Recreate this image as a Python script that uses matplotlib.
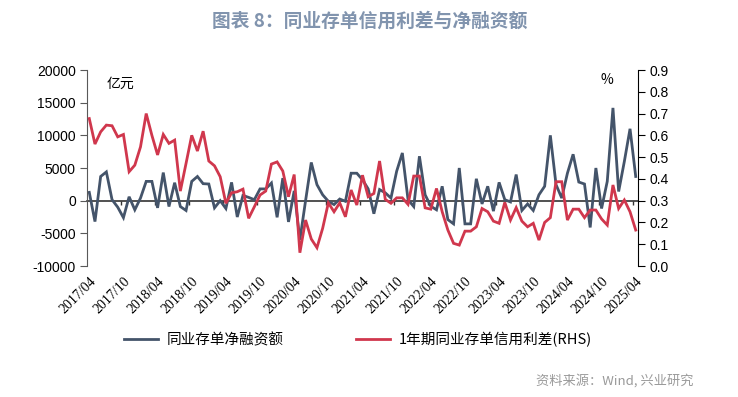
import matplotlib
matplotlib.use("Agg")
import matplotlib.pyplot as plt
import numpy as np
import pandas as pd

months = pd.period_range("2017-04", "2025-04", freq="M")
month_labels = [p.strftime("%Y/%m") for p in months]

net_financing = [1270, -3200, 3700, 4400, 150, -1000, -2600, 600, -1400, 400,
                 2950, 2950, -1100, 4300, -900, 2750, -900, -1500, 2950, 3700,
                 2600, 2550, -1100, 0, -1200, 2800, -2500, 800, 500, 150,
                 1800, 1800, 2700, -2550, 3450, -3250, 1500, -6000, 0, 5850,
                 2450, 900, -100, -600, 250, -100, 4200, 4200, 3200, 1800,
                 -2000, 1700, 1200, 400, 4500, 7300, 150, -900, 6800, 900,
                 -850, -1400, 2200, -2900, -3550, 5000, -3550, -3550, 3350, -500,
                 2200, -1600, 2800, 150, -200, 4000, -1500, -500, -1500, 900,
                 2200, 10000, 2450, 400, 4200, 7100, 2850, 2550, -4100, 5000,
                 -1200, 2950, 14200, 1400, 6000, 11000, 3700]

credit_spread = [0.677, 0.56, 0.616, 0.647, 0.644, 0.593, 0.604, 0.433, 0.463, 0.547,
                 0.70, 0.60, 0.51, 0.604, 0.563, 0.578, 0.344, 0.471, 0.60, 0.528,
                 0.619, 0.482, 0.46, 0.41, 0.288, 0.336, 0.341, 0.353, 0.219, 0.272,
                 0.326, 0.344, 0.468, 0.478, 0.436, 0.318, 0.42, 0.061, 0.211, 0.124,
                 0.084, 0.173, 0.29, 0.249, 0.29, 0.226, 0.349, 0.28, 0.417, 0.318,
                 0.333, 0.482, 0.306, 0.288, 0.313, 0.313, 0.283, 0.413, 0.413, 0.267,
                 0.261, 0.356, 0.249, 0.165, 0.104, 0.096, 0.16, 0.16, 0.18, 0.264,
                 0.249, 0.206, 0.196, 0.292, 0.211, 0.268, 0.206, 0.18, 0.196, 0.119,
                 0.2, 0.222, 0.387, 0.387, 0.211, 0.261, 0.261, 0.222, 0.257, 0.257,
                 0.216, 0.188, 0.372, 0.264, 0.303, 0.249, 0.165]

left_ticks = [-10000, -5000, 0, 5000, 10000, 15000, 20000]
right_ticks = [0.0, 0.1, 0.2, 0.3, 0.4, 0.5, 0.6, 0.7, 0.8, 0.9]

title = "图表 8：同业存单信用利差与净融资额"
name_blue = "同业存单净融资额"
name_red = "1年期同业存单信用利差(RHS)"
source = "资料来源：Wind, 兴业研究"

CJK = ["Noto Sans CJK SC", "DejaVu Sans"]
BLUE = "#44546A"
RED = "#D0374D"

x = np.arange(len(months))

fig = plt.figure(figsize=(7.38, 3.97), dpi=100)
ax = fig.add_axes([87/738, 1-266/397, (638-87)/738, (266-70)/397])
ax2 = ax.twinx()

l1, = ax.plot(x, net_financing, color=BLUE, lw=2.0, solid_joinstyle="miter")
l2, = ax2.plot(x, credit_spread, color=RED, lw=2.0, solid_joinstyle="miter")

ax.set_xlim(-0.4, len(x) - 0.6)
ax.set_ylim(-10000, 20000)
ax2.set_ylim(0, 0.9)

ax.set_yticks(left_ticks)
ax.set_yticklabels([str(v) for v in left_ticks], fontfamily="Liberation Sans", fontsize=10)
ax2.set_yticks(right_ticks)
ax2.set_yticklabels([f"{v:.1f}" for v in right_ticks], fontfamily="Liberation Sans", fontsize=10)

for a in (ax, ax2):
    for s in ("top", "bottom"):
        a.spines[s].set_visible(False)
ax.spines["right"].set_visible(False)
ax2.spines["left"].set_visible(False)
ax.spines["left"].set_color("#595959")
ax2.spines["right"].set_color("#000000")
ax.tick_params(axis="y", direction="out", length=5, color="#595959", pad=3)
ax2.tick_params(axis="y", direction="out", length=5, color="#000000", pad=3)

# x labels at the bottom
lab_pos = x[::6]
ax.set_xticks(lab_pos)
ax.set_xticklabels([month_labels[i] for i in lab_pos], rotation=45, ha="right",
                   rotation_mode="anchor", fontfamily="Liberation Serif", fontsize=10)
ax.tick_params(axis="x", length=0, pad=6)

# zero line with category ticks
zero_frac = (0 - (-10000)) / 30000
sec = ax.secondary_xaxis(zero_frac)
sec.set_xticks(np.arange(5.5, len(x), 6))
sec.set_xticklabels([])
sec.tick_params(axis="x", direction="out", length=3, color="#333333", width=1)
sec.spines["bottom"].set_color("#333333")
sec.spines["bottom"].set_linewidth(1.2)
sec.spines["top"].set_visible(False)
for s in ("left", "right"):
    if s in sec.spines:
        sec.spines[s].set_visible(False)
sec.xaxis.set_ticks_position("bottom")
sec.spines["bottom"].set_visible(True)
sec.set_zorder(0)

ax.text(0.035, 0.965, "亿元", transform=ax.transAxes, family=CJK, fontsize=10,
        va="top", ha="left")
ax.text(0.955, 0.985, "%", transform=ax.transAxes, family=CJK, fontsize=10,
        va="top", ha="right")

fig.text(370/738, 1-21/397, title, family=CJK, fontsize=13.5, fontweight="bold",
         color="#8194AE", ha="center", va="center")

leg = fig.legend([l1, l2], [name_blue, name_red], loc="center",
                 bbox_to_anchor=(358/738, 1-340/397), ncol=2, frameon=False,
                 prop={"family": CJK, "size": 10.5}, handlelength=2.3,
                 columnspacing=5.0, handletextpad=0.6)

fig.text(694/738, 1-381/397, source, family=CJK, fontsize=9.5, color="#9A9A9A",
         ha="right", va="center")

fig.savefig("out.png", dpi=100)
